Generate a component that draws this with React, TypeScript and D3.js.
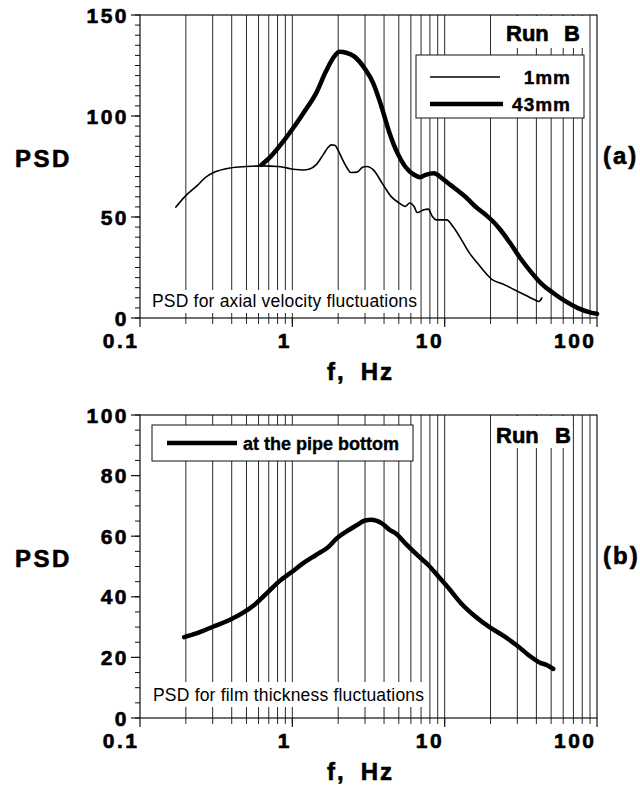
import React from "react";
import * as d3 from "d3";

// panel (a): axial velocity PSD
const f1mm = [0.172, 0.197, 0.237, 0.268, 0.304, 0.39, 0.5, 0.64, 0.8, 0.93, 1.05, 1.18, 1.3, 1.43, 1.6, 1.72, 1.8, 1.9, 2.0, 2.14, 2.3, 2.42, 2.66, 2.91, 3.1, 3.4, 3.95, 4.46, 5.03, 5.5, 5.9, 6.3, 6.6, 7.3, 7.8, 8.3, 8.8, 10.3, 11.4, 12.9, 14.6, 16.5, 18.7, 20.5, 23.9, 28.7, 34.5, 39.0, 41.5, 43.4];
const psd1mm = [54.9, 60.1, 65.5, 69.5, 72.0, 74.3, 75.0, 75.3, 75.0, 74.2, 73.5, 73.3, 73.8, 75.8, 81.0, 84.5, 85.7, 85.5, 83.0, 78.3, 74.0, 72.0, 72.2, 74.7, 75.0, 73.3, 65.9, 60.1, 56.9, 55.2, 56.9, 55.2, 52.2, 53.6, 53.9, 50.3, 48.6, 48.6, 45.0, 38.7, 32.0, 27.0, 22.0, 19.0, 17.0, 14.0, 11.0, 9.0, 8.2, 9.9];

const f43mm = [0.627, 0.72, 0.87, 1.01, 1.18, 1.43, 1.66, 1.88, 2.04, 2.26, 2.56, 2.98, 3.4, 3.85, 4.35, 4.9, 5.5, 6.3, 6.9, 7.5, 8.5, 9.6, 10.9, 12.8, 14.0, 15.9, 18.6, 21.1, 23.2, 26.9, 31.3, 36.6, 42.8, 51.6, 62.3, 75, 90, 100];
const psd43mm = [75.8, 79.9, 87.3, 93.9, 101.4, 111.2, 122.0, 129.4, 131.8, 131.3, 129.4, 123.6, 116.2, 104.6, 91.5, 81.6, 75.0, 70.9, 69.7, 70.9, 71.7, 69.2, 65.9, 61.8, 59.3, 55.2, 51.1, 47.3, 43.7, 37.1, 29.7, 23.1, 17.3, 12.4, 8.2, 4.9, 2.8, 2.1];

// panel (b): film thickness PSD
const fBottom = [0.195, 0.237, 0.304, 0.39, 0.47, 0.565, 0.68, 0.82, 0.98, 1.18, 1.43, 1.72, 1.94, 2.26, 2.66, 3.0, 3.3, 3.85, 4.35, 4.8, 5.5, 6.6, 7.8, 9.1, 10.6, 12.8, 15.9, 19.7, 23.7, 29.4, 36.6, 42.8, 46.8, 51.6];
const psdBottom = [26.7, 28.0, 30.2, 32.4, 34.6, 37.4, 41.2, 45.1, 48.0, 51.1, 53.8, 56.4, 59.1, 61.5, 63.7, 65.2, 65.4, 64.3, 62.1, 60.8, 57.7, 53.8, 50.5, 46.7, 42.9, 37.9, 33.5, 30.0, 27.5, 24.2, 20.3, 18.1, 17.5, 16.2];

const xTickLabels = ["0.1", "1", "10", "100"];
const xTickValues = [0.1, 1, 10, 100];

const FONT = "'Liberation Sans', Arial, Helvetica, sans-serif";
const X0 = 140;
const X1 = 597;

// heavy bold look of the original lettering
const heavy = { fontWeight: "bold", fontFamily: FONT, stroke: "#000", strokeWidth: 0.6 } as any;

const gridFreqs = [-1, 0, 1]
  .flatMap((e) => d3.range(1, 10).map((m) => m * Math.pow(10, e)))
  .filter((v) => v > 0.1001 && v < 99);

type Series = { f: number[]; v: number[]; width: number };

const Panel = ({ top, bottom, yMax, yStep, series, tag, children }: any) => {
  const x = d3.scaleLog().domain([0.1, 100]).range([X0, X1]);
  const y = d3.scaleLinear().domain([0, yMax]).range([bottom, top]);
  const line = d3
    .line<[number, number]>()
    .x((d) => x(d[0]))
    .y((d) => y(d[1]))
    .curve(d3.curveMonotoneX);

  const minor = d3.range(0, yMax + 0.01, 5);
  const major = d3.range(0, yMax + 0.01, yStep);

  return (
    <g>
      {/* grid */}
      {gridFreqs.map((g) => (
        <line key={"g" + g} x1={x(g)} x2={x(g)} y1={top} y2={bottom + 6} stroke="#111" strokeWidth={0.9} />
      ))}
      {xTickValues.map((t) => (
        <line key={"xt" + t} x1={x(t)} x2={x(t)} y1={bottom} y2={bottom + 9} stroke="#111" strokeWidth={1.2} />
      ))}
      {children[0]}
      {/* frame */}
      <rect x={X0} y={top} width={X1 - X0} height={bottom - top} fill="none" stroke="#111" strokeWidth={1.2} />
      {minor.map((t) => (
        <line key={"ym" + t} x1={X0 - 5} x2={X0} y1={y(t)} y2={y(t)} stroke="#111" strokeWidth={1} />
      ))}
      {major.map((t) => (
        <g key={"yM" + t}>
          <line x1={X0 - 9} x2={X0} y1={y(t)} y2={y(t)} stroke="#111" strokeWidth={1.2} />
          <text x={129} y={y(t) + 7.5} textAnchor="end" fontSize={21} letterSpacing={2.5} {...heavy}>
            {t}
          </text>
        </g>
      ))}
      {xTickValues.map((t, i) => (
        <text key={"xl" + t} x={x(t) - 0.5} y={bottom + 30} textAnchor="end" fontSize={21} letterSpacing={2.5} {...heavy}>
          {xTickLabels[i]}
        </text>
      ))}
      {/* curves */}
      {(series as Series[]).map((s, i) => (
        <path
          key={"s" + i}
          d={line(s.f.map((f, j) => [f, s.v[j]] as [number, number])) || ""}
          fill="none"
          stroke="#000"
          strokeWidth={s.width}
          strokeLinejoin="round"
          strokeLinecap="round"
        />
      ))}
      {children[1]}
      {/* axis titles */}
      <text x={15} y={bottom - 151} fontSize={24} letterSpacing={2.5} {...heavy}>PSD</text>
      <text x={603} y={bottom - 154} fontSize={24} letterSpacing={2} {...heavy}>{tag}</text>
      <text x={327} y={bottom + 62} fontSize={24} letterSpacing={2} {...heavy}>f,</text>
      <text x={394} y={bottom + 62} textAnchor="end" fontSize={24} letterSpacing={2} {...heavy}>Hz</text>
    </g>
  );
};

export default function App() {
  return (
    <div style={{ position: "absolute", left: 0, top: 0 }}>
      <svg width={640} height={787} style={{ display: "block", background: "#fff" }}>
        <Panel
          top={15}
          bottom={318}
          yMax={150}
          yStep={50}
          tag="(a)"
          series={[
            { f: f1mm, v: psd1mm, width: 1.6 },
            { f: f43mm, v: psd43mm, width: 4.5 },
          ]}
        >
          <g>
            <rect x={148} y={290} width={272} height={23} fill="#fff" />
            <text x={152} y={307} fontSize={17.5} fontFamily={FONT} textLength={265}>PSD for axial velocity fluctuations</text>
            <rect x={493} y={16} width={93} height={32} fill="#fff" />
            <text x={506} y={41} fontSize={22} {...heavy}>Run</text>
            <text x={580} y={41} textAnchor="end" fontSize={22} {...heavy}>B</text>
          </g>
          <g>
            <rect x={416} y={55} width={168} height={63} fill="#fff" stroke="#111" strokeWidth={1} />
            <line x1={430} x2={500} y1={77} y2={77} stroke="#000" strokeWidth={1.6} />
            <line x1={430} x2={503} y1={104} y2={104} stroke="#000" strokeWidth={4.5} />
            <text x={571} y={84} textAnchor="end" fontSize={19} letterSpacing={1} {...heavy} strokeWidth={0.4}>1mm</text>
            <text x={571} y={111} textAnchor="end" fontSize={19} letterSpacing={1} {...heavy} strokeWidth={0.4}>43mm</text>
          </g>
        </Panel>
        <Panel
          top={415}
          bottom={718}
          yMax={100}
          yStep={20}
          tag="(b)"
          series={[{ f: fBottom, v: psdBottom, width: 4.5 }]}
        >
          <g>
            <rect x={148} y={682} width={280} height={25} fill="#fff" />
            <text x={153} y={701} fontSize={17.5} fontFamily={FONT} textLength={271}>PSD for film thickness fluctuations</text>
            <rect x={493} y={416} width={77} height={32} fill="#fff" />
            <text x={496} y={443} fontSize={22} {...heavy}>Run</text>
            <text x={571} y={443} textAnchor="end" fontSize={22} {...heavy}>B</text>
          </g>
          <g>
            <rect x={152} y={425} width={261} height={36} fill="#fff" stroke="#111" strokeWidth={1} />
            <line x1={167} x2={237} y1={443} y2={443} stroke="#000" strokeWidth={4.5} />
            <text x={243} y={450} fontSize={18} {...heavy} strokeWidth={0.35}>at the pipe bottom</text>
          </g>
        </Panel>
      </svg>
    </div>
  );
}
